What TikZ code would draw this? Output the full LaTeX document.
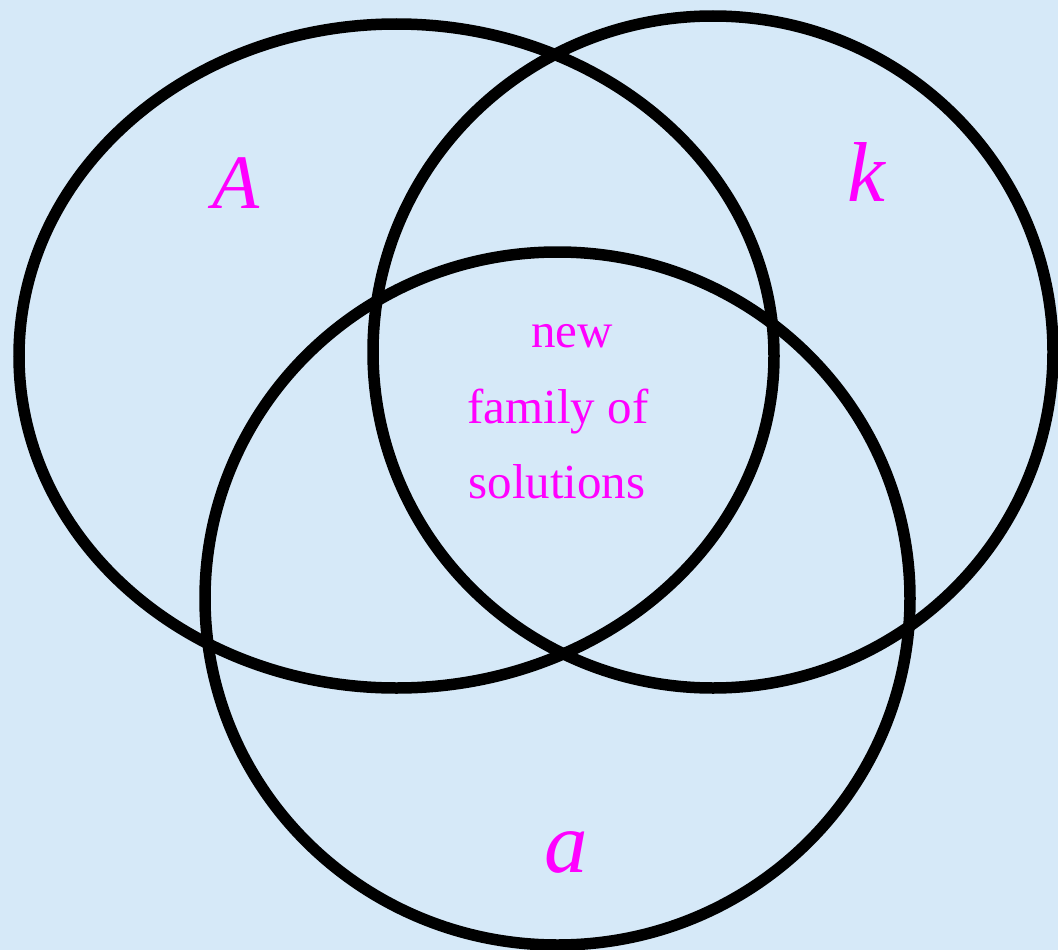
\documentclass[tikz,border=0pt]{standalone}
\usepackage{fontspec}
\setmainfont{Liberation Serif}
\definecolor{bgblue}{HTML}{D6E9F8}
\definecolor{lbl}{HTML}{FF00FF}
\begin{document}
\begin{tikzpicture}[x=1pt,y=-1pt,
  ring/.style={draw=black,line width=11.5pt},
  setlabel/.style={text=lbl,anchor=base,inner sep=0pt,font=\itshape},
  midlabel/.style={text=lbl,anchor=base,inner sep=0pt,font=\fontsize{49}{58}\selectfont}]
\fill[bgblue] (0,0) rectangle (1058,950);
\useasboundingbox (0,0) rectangle (1058,950);
\draw[ring] (396.5,356) ellipse [x radius=377.5pt, y radius=332pt];
\draw[ring] (713,352) ellipse [x radius=340pt, y radius=336pt];
\draw[ring] (557.5,598.5) ellipse [x radius=352.5pt, y radius=346.5pt];
\node[setlabel,font=\itshape\fontsize{77}{80}\selectfont] (lA) at (236,208) {A};
\node[setlabel,font=\itshape\fontsize{85}{90}\selectfont] (lk) at (866,201) {k};
\node[setlabel,font=\itshape\fontsize{87}{90}\selectfont] (la) at (566,872) {a};
\node[midlabel] (l1) at (572,347) {new};
\node[midlabel] (l2) at (558,423) {family of};
\node[midlabel] (l3) at (557,498) {solutions};
\end{tikzpicture}
\end{document}
